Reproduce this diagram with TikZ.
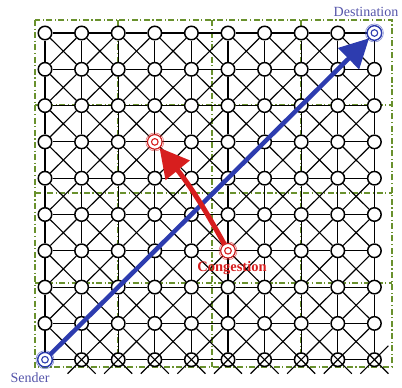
\documentclass[tikz,border=0pt]{standalone}
\usepackage{fontspec}
\setmainfont{Liberation Serif}
\usetikzlibrary{arrows.meta,calc}
\definecolor{gridgreen}{RGB}{105,145,45}
\definecolor{netblue}{RGB}{45,60,175}
\definecolor{txtblue}{RGB}{85,85,170}
\definecolor{netred}{RGB}{215,30,30}
\begin{document}
\begin{tikzpicture}[x=1pt,y=-1pt,
  gnode/.style={circle,draw=black,fill=white,line width=1.5pt,minimum size=13.5pt,inner sep=0pt},
  edge/.style={draw=black,line width=1.15pt},
  part/.style={draw=gridgreen,line width=1.1pt,dash pattern=on 6pt off 2.5pt on 1.2pt off 2.5pt},
  bluering/.style={draw=netblue},
  redring/.style={draw=netred},
  lbl/.style={inner sep=0pt,font=\fontsize{14}{16}\selectfont}]
\useasboundingbox (0,0) rectangle (402,388);
% partition (dash-dot)
\draw[part] (35,20) rectangle (392,367);
\foreach \x in {118,212,301} \draw[part] (\x,20) -- (\x,367);
\foreach \y in {105,193,283} \draw[part] (35,\y) -- (392,\y);
% nodes
\foreach \i in {0,...,9}{\foreach \j in {0,...,9}{
  \node[gnode] (n-\i-\j) at ({45+36.6*\i},{33+36.3*\j}) {};}}
% horizontal and vertical edges
\foreach \i [evaluate=\i as \k using int(\i+1)] in {0,...,8}{\foreach \j in {0,...,9}{
  \draw[edge] (n-\i-\j) -- (n-\k-\j);
  \draw[edge] (n-\j-\i) -- (n-\j-\k);}}
% diagonal edges
\foreach \i [evaluate=\i as \k using int(\i+1)] in {0,...,8}{
 \foreach \j [evaluate=\j as \m using int(\j+1)] in {0,...,8}{
  \draw[edge] (n-\i-\j) -- (n-\k-\m);
  \draw[edge] (n-\k-\j) -- (n-\i-\m);}}
% crossed bottom nodes
\foreach \i in {1,...,9}{
  \path (n-\i-9.center) ++(-14,14) coordinate (dl-\i)
        (n-\i-9.center) ++(14,14) coordinate (dr-\i)
        (n-\i-9.center) ++(-5,-5) coordinate (ul-\i)
        (n-\i-9.center) ++(5,-5) coordinate (ur-\i);
  \draw[edge] (dl-\i) -- (ur-\i);
  \draw[edge] (dr-\i) -- (ul-\i);}
\path (n-9-9.center) ++(14,-14) coordinate (ex);
\draw[edge] (n-9-9.center) -- (ex);
% special rings
\foreach \n in {n-0-9,n-9-0}{
  \fill[white] (\n.center) circle (7);
  \draw[bluering,line width=1.4pt] (\n.center) circle (7.3);
  \draw[bluering,line width=0.6pt,opacity=0.6] (\n.center) circle (9);
  \draw[bluering,line width=1.1pt] (\n.center) circle (3.3);}
\foreach \n in {n-5-6,n-3-3}{
  \fill[white] (\n.center) circle (7);
  \draw[redring,line width=1.1pt] (\n.center) circle (7.3);
  \draw[redring,line width=0.6pt,opacity=0.6] (\n.center) circle (9);
  \draw[redring,line width=1.1pt] (\n.center) circle (3.3);}
% paths
\draw[netblue,line width=4.5pt,-{Triangle[length=29pt,width=29pt]}] (n-0-9) -- (n-9-0);
\draw[netred,line width=5pt,-{Triangle[length=29pt,width=30pt]}] (n-5-6) to[bend right=5] (n-3-3);
% labels
\node[lbl,text=txtblue] (dlab) at (366,12) {Destination};
\node[lbl,text=txtblue] (slab) at (30,378) {Sender};
\node[lbl,text=netred,font=\fontsize{14.5}{16}\selectfont\bfseries] (clab) at (232,268) {Congestion};
\end{tikzpicture}
\end{document}
